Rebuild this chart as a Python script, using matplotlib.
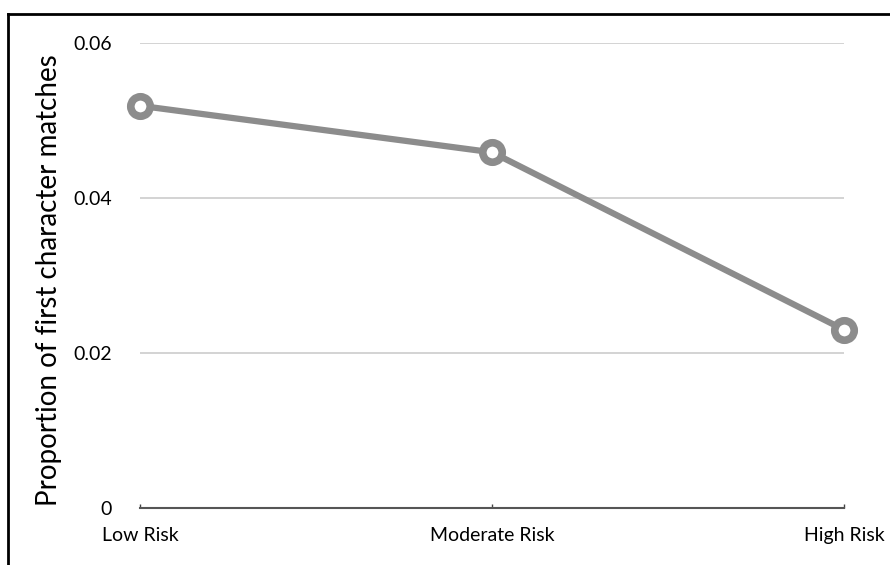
import matplotlib
matplotlib.use("Agg")
import matplotlib.pyplot as plt
from matplotlib.lines import Line2D

categories = ["Low Risk", "Moderate Risk", "High Risk"]
proportions = [0.0519, 0.0459, 0.0230]
yticks = [0, 0.02, 0.04, 0.06]
ytick_labels = ["0", "0.02", "0.04", "0.06"]

plt.rcParams['font.family'] = ['Lato', 'DejaVu Sans']

fig = plt.figure(figsize=(8.9, 5.65), dpi=100)
ax = fig.add_axes([140/890, 1 - 508/565, 704/890, 465/565])

xs = list(range(len(categories)))
ax.plot(xs, proportions, '-o', color='#8c8c8c', lw=4.5, ms=14,
        mfc='white', mec='#8c8c8c', mew=5.5, clip_on=False, zorder=3)

ax.set_xlim(0, len(categories) - 1)
ax.set_ylim(0, 0.06)
ax.set_yticks(yticks)
ax.set_yticklabels(ytick_labels, fontsize=14)
ax.set_xticks(xs)
ax.set_xticklabels(categories, fontsize=14)
ax.tick_params(axis='y', length=0, pad=20)
ax.tick_params(axis='x', direction='in', length=3, width=1, color='#444444', pad=14)

ax.grid(axis='y', color='#cccccc', lw=1.2)
ax.set_axisbelow(True)
for s in ['top', 'right', 'left']:
    ax.spines[s].set_visible(False)
ax.spines['bottom'].set_color('#555555')
ax.spines['bottom'].set_linewidth(1.5)

ax.set_ylabel("Proportion of first character matches", fontsize=20)
ax.yaxis.set_label_coords(-78/704, 0.49)

# frame around the slide (top and left edges visible)
fig.add_artist(Line2D([8/890, 1], [1 - 14/565, 1 - 14/565], color='black', lw=2,
                      transform=fig.transFigure))
fig.add_artist(Line2D([8/890, 8/890], [0, 1 - 14/565], color='black', lw=2,
                      transform=fig.transFigure))

fig.savefig("out.png", dpi=100)
